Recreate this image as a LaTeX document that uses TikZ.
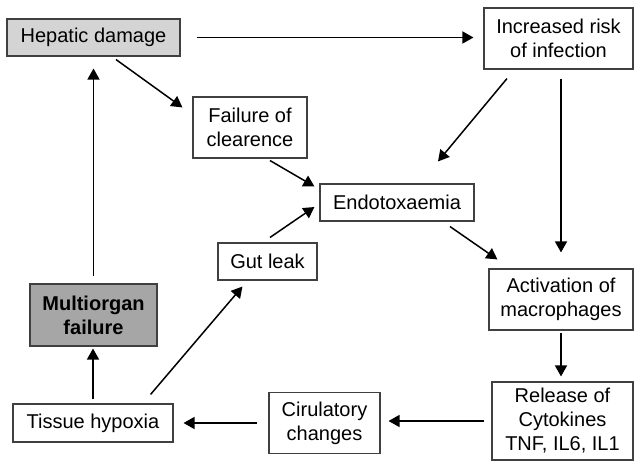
\documentclass[tikz,border=0pt]{standalone}
\usepackage{fontspec}
\setmainfont{Liberation Sans}
\usetikzlibrary{arrows.meta}
\definecolor{lightbox}{HTML}{D4D4D4}
\definecolor{darkbox}{HTML}{A6A6A6}
\definecolor{boxline}{HTML}{404040}
\begin{document}
\begin{tikzpicture}[x=1pt,y=1pt,
  box/.style={draw=boxline,line width=1.1pt,inner sep=0pt,align=center,
    font=\fontsize{20}{24}\selectfont},
  arr/.style={line width=1.5pt,-{Triangle[length=11pt,width=12pt]}}]
\useasboundingbox (0,0) rectangle (635,-468);
\node[box,fill=lightbox,minimum width=173pt,minimum height=37pt] (hep) at (93.5,-37.5) {Hepatic damage};
\node[box,minimum width=149pt,minimum height=61pt] (inc) at (558.5,-38.5) {Increased risk\\of infection};
\node[box,minimum width=114pt,minimum height=61pt] (fail) at (250,-127.5) {Failure of\\clearence};
\node[box,minimum width=154pt,minimum height=37pt] (endo) at (397,-202.5) {Endotoxaemia};
\node[box,minimum width=99pt,minimum height=37pt] (gut) at (267.5,-261.5) {Gut leak};
\node[box,fill=darkbox,minimum width=127pt,minimum height=62pt,font=\fontsize{20}{24}\selectfont\bfseries] (mof) at (93.5,-315) {Multiorgan\\failure};
\node[box,minimum width=160pt,minimum height=38pt] (tis) at (93,-423) {Tissue hypoxia};
\node[box,minimum width=111pt,minimum height=61pt] (cir) at (324.5,-423) {Cirulatory\\changes};
\node[box,minimum width=144pt,minimum height=61pt] (act) at (561,-299.5) {Activation of\\macrophages};
\node[box,minimum width=141pt,minimum height=78pt] (rel) at (562.5,-421) {Release of\\Cytokines\\TNF, IL6, IL1};

\draw[arr] ([xshift=16pt]hep.east) -- ([xshift=-10pt]hep.east -| inc.west);
\draw[arr] ([xshift=22.5pt,yshift=-3pt]hep.south) -- ([xshift=-10pt,yshift=-11pt]fail.north west);
\draw[arr] ([xshift=20pt,yshift=-2pt]fail.south) -- ([xshift=-5pt,yshift=-3pt]endo.north west);
\draw[arr] ([xshift=-51.5pt,yshift=-9pt]inc.south) -- ([xshift=41pt,yshift=22pt]endo.north);
\draw[arr] ([yshift=-9pt]inc.south -| act.north) -- ([yshift=16pt]act.north);
\draw[arr] ([xshift=53pt,yshift=-5pt]endo.south) -- ([xshift=9pt,yshift=9pt]act.north west);
\draw[arr] ([xshift=2.5pt,yshift=5pt]gut.north) -- ([xshift=-5pt,yshift=-4.5pt]endo.west);
\draw[arr] ([yshift=-2pt]act.south) -- ([yshift=5pt]act.south |- rel.north);
\draw[arr] ([xshift=-7pt]rel.west) -- ([xshift=8pt]rel.west -| cir.east);
\draw[arr] ([xshift=-11pt]cir.west) -- ([xshift=10pt]cir.west -| tis.east);
\draw[arr] ([yshift=4pt]tis.north) -- ([yshift=-2pt]tis.north |- mof.south);
\draw[arr] ([yshift=7pt]mof.north) -- ([yshift=-12pt]mof.north |- hep.south);
\draw[arr] ([xshift=-23pt,yshift=9pt]tis.north east) -- ([xshift=25pt,yshift=-6pt]gut.south west);
\end{tikzpicture}
\end{document}
